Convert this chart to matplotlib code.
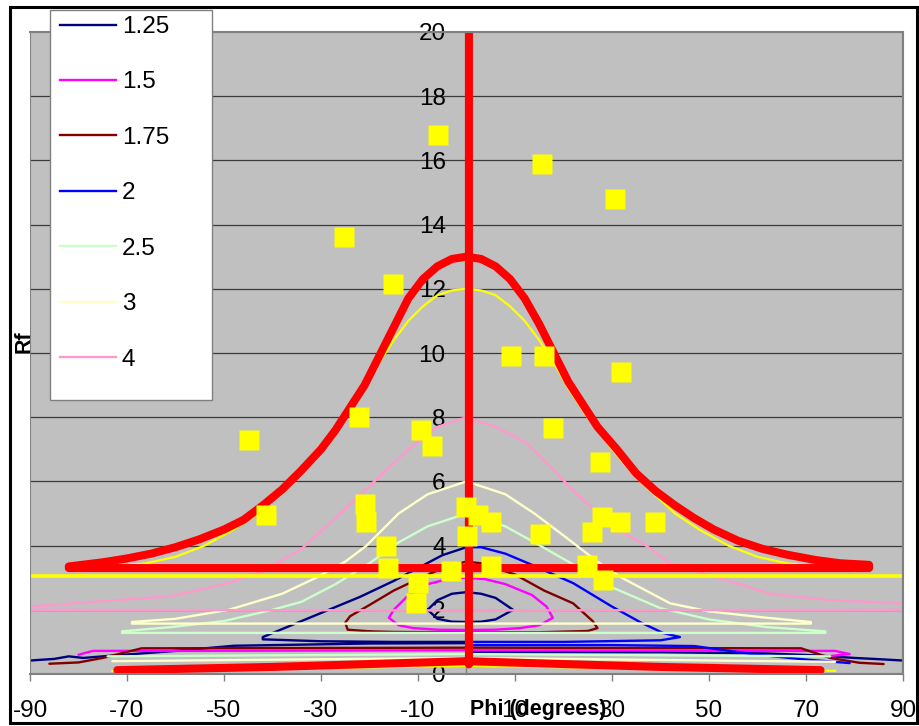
import numpy as np
import matplotlib
matplotlib.use("Agg")
import matplotlib.pyplot as plt
from matplotlib.patches import Rectangle
from matplotlib.lines import Line2D

plt.rcParams['font.family'] = ['Liberation Sans', 'DejaVu Sans']

nan = np.nan
# ---------------- data ----------------
labels = ["1.25", "1.5", "1.75", "2", "2.5", "3", "4"]
colors = ["#000080", "#FF00FF", "#800000", "#0000FF", "#CCFFCC", "#FFFFCC", "#FF99CC"]

s125_phi = [-8, -6, -3, 0, 3, 6, 9.6, 6, 3, 0, -3, -6, -8, nan,
            0, -5, -10, -15, -22, -30, -38, -42, -42, -30, -15, 0, nan,
            -90, -85, -82, -79, -75, -60, -48, -20, 0, nan,
            0, 40, 62, 72, 80, 84, 90]
s125_rf = [2.0, 2.3, 2.5, 2.55, 2.5, 2.37, 2.0, 1.7, 1.63, 1.62, 1.63, 1.72, 2.0, nan,
           3.95, 3.7, 3.3, 2.9, 2.4, 1.9, 1.4, 1.15, 1.08, 1.02, 1.0, 1.0, nan,
           0.42, 0.47, 0.55, 0.5, 0.55, 0.72, 0.88, 0.95, 0.96, nan,
           0.68, 0.68, 0.64, 0.58, 0.5, 0.47, 0.42]

s15_phi = [0, -4, -8, -12, -15, -16, -14, -11, -6, 0, 6, 11, 15, 17.8, 16.5, 13.5, 8, 4, 0, nan,
           -80, -77, -60, 0, 60, 76, 79, 75]
s15_rf = [3.0, 2.95, 2.8, 2.45, 2.0, 1.75, 1.52, 1.43, 1.38, 1.37, 1.38, 1.43, 1.52, 1.75, 2.1, 2.46, 2.8, 2.95, 3.0, nan,
          0.6, 0.72, 0.72, 0.74, 0.72, 0.72, 0.62, 0.56]

s175_phi = [-20, -24.5, -25, -24, -20, -15, -8, -3, 0, 3, 10, 16, 22, 26, 27, 25, 15, 0, -15, -20, nan,
            0.8, 0.8, nan,
            -86, -80, -75, -67, 0, 69, 75, 81, 86]
s175_rf = [1.33, 1.38, 1.6, 1.8, 2.15, 2.6, 3.1, 3.4, 3.5, 3.45, 3.1, 2.6, 2.2, 1.65, 1.43, 1.34, 1.3, 1.3, 1.31, 1.33, nan,
           3.5, 3.9, nan,
           0.32, 0.36, 0.5, 0.8, 0.82, 0.8, 0.5, 0.35, 0.31]

s2_phi = [0.5, 3, 8, 13.5, 22, 30, 36, 40.5, 44, 40, 20, 0, nan,
          0.8, 0.8, nan,
          0, 30, 47, 60, 70, 79]
s2_rf = [3.95, 3.95, 3.75, 3.4, 2.83, 2.1, 1.6, 1.28, 1.15, 1.05, 1.0, 1.0, nan,
         4.0, 5.0, nan,
         0.9, 0.9, 0.87, 0.6, 0.45, 0.34]

s25_phi = [-71, -61, -50, -40, -34, -27, -20, -14, -8, 0, 8, 14, 21, 30, 40, 50, 62, 74, 74, 0, -71, nan,
           0.8, 0.8, nan,
           -74, 0, 75]
s25_rf = [1.33, 1.46, 1.65, 2.0, 2.25, 2.8, 3.45, 4.1, 4.6, 5.0, 4.6, 4.1, 3.5, 2.7, 2.05, 1.7, 1.46, 1.33, 1.28, 1.28, 1.28, nan,
          5.0, 6.0, nan,
          0.55, 0.62, 0.55]

s3_phi = [-69, -60, -49, -38, -31, -25, -20.6, -14, -8, 0, 8, 14, 21, 27, 32, 42, 50, 62, 71, 71, 0, -69, nan,
          0.8, 0.8, nan,
          -73, 0, 76]
s3_rf = [1.62, 1.72, 2.0, 2.5, 3.0, 3.5, 4.0, 5.0, 5.6, 6.0, 5.6, 5.0, 4.2, 3.5, 3.0, 2.2, 1.95, 1.75, 1.62, 1.57, 1.57, 1.57, nan,
         6.0, 8.0, nan,
         0.4, 0.5, 0.38]

s4_phi = [-90, -75, -61, -50, -42, -34, -26, -19, -12, -6, 0, 6, 12.4, 19, 21.4, 30, 37, 42, 52, 62.6, 75, 90, 90, 0, -90, nan,
          0.8, 0.8]
s4_rf = [2.1, 2.27, 2.42, 2.8, 3.2, 3.9, 5.0, 6.0, 7.0, 7.7, 8.0, 7.7, 7.2, 6.2, 5.8, 4.6, 4.0, 3.45, 3.0, 2.5, 2.3, 2.2, 2.0, 1.98, 2.0, nan,
         8.0, 20.0]

yel_phi = [-80, -72, -66, -60, -54, -48, -43, -38, -34, -30, -27, -24.5, -21, -18, -15, -12, -9, -6, -3, 0,
           3, 6, 9, 12, 15, 18, 21, 24.5, 27, 30, 34, 38, 43, 48, 54, 60, 66, 72, 80, nan,
           0.8, 0.8, nan,
           -73, 0, 76]
yel_rf = [3.2, 3.35, 3.45, 3.65, 4.0, 4.5, 5.0, 5.7, 6.3, 7.0, 7.6, 8.1, 8.9, 9.7, 10.4, 11.0, 11.45, 11.8, 11.95, 12.0,
          11.95, 11.8, 11.45, 11.0, 10.4, 9.7, 8.9, 8.1, 7.6, 7.0, 6.3, 5.7, 5.0, 4.5, 4.0, 3.65, 3.45, 3.35, 3.2, nan,
          12.0, 13.0, nan,
          0.1, 0.25, 0.1]
yel_h_phi = [-90, 90]
yel_h_rf = [3.05, 3.05]

red_phi = [0.5, 0.5, nan,
           -82, -75, -70, -65, -60, -55, -50, -46, -42, -38, -34, -30, -27, -24, -21, -18, -15, -12, -9, -6, -3, 0,
           3, 6, 9, 12, 15, 18, 21, 24, 27, 31, 35, 39, 43, 47, 51, 56, 61, 66, 72, 77, 83,
           83, -82, nan,
           -72, -40, 0, 40, 73]
red_rf = [0.3, 20, nan,
          3.35, 3.48, 3.6, 3.75, 3.95, 4.2, 4.5, 4.8, 5.25, 5.75, 6.35, 7.0, 7.6, 8.3, 9.0, 9.9, 10.8, 11.7, 12.3, 12.7, 12.93, 13.0,
          12.93, 12.7, 12.3, 11.7, 10.9, 10.0, 9.1, 8.4, 7.7, 7.0, 6.25, 5.7, 5.25, 4.85, 4.5, 4.15, 3.9, 3.72, 3.55, 3.45, 3.4,
          3.3, 3.3, nan,
          0.12, 0.22, 0.4, 0.22, 0.12]

data_phi = [-5.9, 15.6, 30.6, -25.3, -15.2, 9.2, 16, 31.8, -22.2, -44.8, -9.4, -7.1, 17.8, 27.5,
            -41.3, -21, -20.7, -16.6, -16.2, -10, -10.4, -3.2, 0, 0.2, 2.4, 5, 5, 15.2,
            25.9, 28, 31.6, 38.9, 24.8, 28.1]
data_rf = [16.8, 15.9, 14.8, 13.6, 12.15, 9.9, 9.9, 9.4, 8.0, 7.3, 7.6, 7.1, 7.65, 6.6,
           4.95, 5.3, 4.75, 4.0, 3.3, 2.83, 2.2, 3.2, 5.2, 4.3, 4.95, 4.75, 3.35, 4.36,
           4.42, 4.9, 4.73, 4.73, 3.4, 2.93]

xticks = [-90, -70, -50, -30, -10, 10, 30, 50, 70, 90]
yticks = [0, 2, 4, 6, 8, 10, 12, 14, 16, 18, 20]

# ---------------- figure ----------------
W, H = 920, 726
fig = plt.figure(figsize=(W / 100, H / 100), dpi=100)
fig.patch.set_facecolor("white")
ax = fig.add_axes([30 / W, 1 - 674 / H, (903 - 30) / W, (674 - 32) / H])
ax.set_facecolor("#C0C0C0")
ax.set_xlim(-90, 90)
ax.set_ylim(0, 20)

for y in yticks[1:-1]:
    ax.axhline(y, color="#3a3a3a", lw=0.9, zorder=1)

series = [(s125_phi, s125_rf), (s15_phi, s15_rf), (s175_phi, s175_rf), (s2_phi, s2_rf),
          (s25_phi, s25_rf), (s3_phi, s3_rf), (s4_phi, s4_rf)]
handles = []
for (p, r), c, lab in zip(series, colors, labels):
    ax.plot(p, r, color=c, lw=1.7, zorder=3, solid_joinstyle="round", solid_capstyle="round")
    handles.append(Line2D([], [], color=c, lw=1.7))

ax.plot(yel_phi, yel_rf, color="#FFFF00", lw=1.6, zorder=4, solid_joinstyle="round")
ax.plot(yel_h_phi, yel_h_rf, color="#FFFF00", lw=2.6, zorder=4)
ax.plot(red_phi, red_rf, color="#FF0000", lw=5.8, zorder=5, solid_joinstyle="round", solid_capstyle="round")

ax.plot(data_phi, data_rf, ls="none", marker="s", ms=14.5, mfc="#FFFF00", mec="none", zorder=6)

# axes styling (Excel-like: y axis crossing at phi = 0)
for s in ["top", "right", "bottom"]:
    ax.spines[s].set_color("#808080")
    ax.spines[s].set_linewidth(1.5)
ax.spines["left"].set_position(("data", 0))
ax.spines["left"].set_color("#808080")
ax.spines["left"].set_linewidth(1.0)
ax.spines["left"].set_zorder(2)
ax.add_patch(Rectangle((0, 0), 1, 1, transform=ax.transAxes, fill=False,
                       ec="#808080", lw=1.5, zorder=7))

ax.set_xticks(xticks)
ax.set_xticklabels([str(t) for t in xticks])
ax.set_yticks(yticks)
ax.set_yticklabels([str(t) for t in yticks])
ax.tick_params(axis="x", length=5, width=1, color="#808080", pad=14, labelsize=17.5)
ax.tick_params(axis="y", length=0, pad=15, labelsize=17.5)

fig.text(538 / W, 1 - 709 / H, "Phi (degrees)", fontsize=15.5, fontweight="bold",
         ha="center", va="center")
fig.text(24 / W, 1 - 342 / H, "Rf", fontsize=15.5, fontweight="bold", rotation=90,
         ha="center", va="center")

# legend box
fig.patches.append(Rectangle((50 / W, 1 - 400 / H), (212 - 50) / W, (400 - 10) / H,
                             transform=fig.transFigure, fc="white", ec="#808080", lw=1.0, zorder=10))
leg = fig.legend(handles, labels, loc="upper left", bbox_to_anchor=(43 / W, 1 + 1 / H),
                 frameon=False, fontsize=17.5, handlelength=2.3, handletextpad=0.25,
                 labelspacing=1.375, borderpad=0.2)
leg.set_zorder(11)

# outer frame
fig.patches.append(Rectangle((10 / W, 1 - 723 / H), (917 - 10) / W, (723 - 7) / H,
                             transform=fig.transFigure, fill=False, ec="black", lw=2.2, zorder=12))

fig.savefig("out.png", dpi=100)
